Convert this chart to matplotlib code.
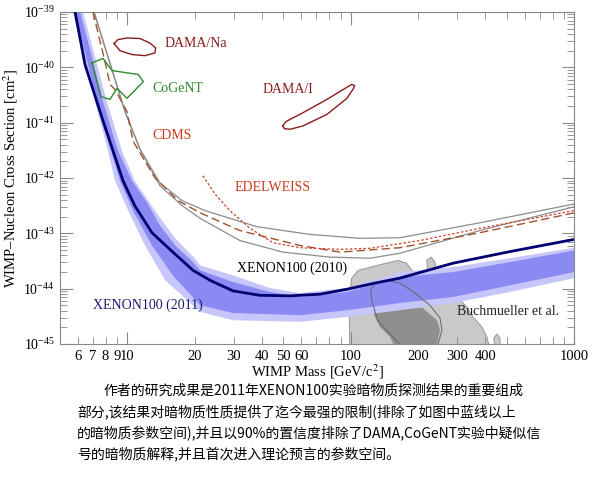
import numpy as np
import matplotlib
matplotlib.use("Agg")
import matplotlib.pyplot as plt

plt.rcParams["font.family"] = ["Liberation Serif", "DejaVu Serif"]
plt.rcParams["mathtext.fontset"] = "stix"

# --- data (mass in GeV, log10 of cross section in cm^2) ---
xe2011_mass = [5.84, 6.47, 7.79, 9.57, 10.8, 12.9, 16.0, 19.7, 23.5, 29.7, 39.2, 53.5,
               72.8, 96.2, 128, 166, 287, 516, 1000]
xe2011_logxs = [-39.00, -39.95, -40.97, -42.05, -42.50, -42.99, -43.34, -43.67, -43.85,
                -44.04, -44.12, -44.13, -44.10, -44.01, -43.90, -43.81, -43.54, -43.33, -43.11]

# expected sensitivity bands (2 sigma light, 1 sigma dark)
band2_hi_mass = [6.34, 7.17, 8.11, 9.47, 10.8, 12.6, 14.3, 16.4, 19.7, 21.2, 29.7, 43.5,
                 59.3, 96.2, 166, 287, 516, 1000]
band2_hi_logxs = [-39.00, -39.81, -40.62, -41.51, -42.05, -42.45, -42.77, -43.09, -43.42,
                  -43.58, -43.76, -43.99, -44.08, -43.99, -43.70, -43.61, -43.45, -43.26]
band1_hi_mass = [6.15, 6.95, 7.79, 9.09, 10.5, 12.3, 14.0, 16.4, 19.7, 21.2, 29.7, 43.5,
                 59.3, 96.2, 166, 287, 516, 1000]
band1_hi_logxs = [-39.00, -39.81, -40.62, -41.51, -42.05, -42.45, -42.86, -43.22, -43.52,
                  -43.67, -43.88, -44.06, -44.15, -44.06, -43.79, -43.70, -43.52, -43.31]
band1_lo_mass = [5.84, 6.54, 7.32, 8.46, 9.28, 10.6, 12.9, 16.0, 21.2, 29.7, 59.3, 96.2,
                 166, 287, 516, 1000]
band1_lo_logxs = [-39.00, -39.81, -40.62, -41.51, -42.05, -42.59, -43.22, -43.76, -44.30,
                  -44.44, -44.48, -44.39, -44.26, -44.15, -43.94, -43.70]
band2_lo_mass = [5.72, 6.40, 7.17, 8.20, 8.81, 10.1, 12.0, 14.8, 21.2, 29.7, 59.3, 96.2,
                 166, 287, 516, 1000]
band2_lo_logxs = [-39.00, -39.81, -40.62, -41.51, -42.05, -42.59, -43.22, -43.85, -44.42,
                  -44.57, -44.60, -44.51, -44.39, -44.26, -44.06, -43.81]

xe2010a_mass = [7.10, 8.37, 9.77, 11.4, 14.0, 17.6, 22.3, 28.8, 38.0, 65.7, 110, 166, 378, 1000]
xe2010a_logxs = [-39.00, -39.93, -40.80, -41.48, -42.09, -42.41, -42.59, -42.73, -42.88,
                 -43.02, -43.09, -43.08, -42.81, -42.47]
xe2010b_mass = [7.10, 8.37, 9.77, 11.4, 14.0, 17.6, 21.2, 31.9, 49.7, 80.7, 122, 166, 378, 1000]
xe2010b_logxs = [-39.00, -39.93, -40.80, -41.48, -42.14, -42.50, -42.73, -43.13, -43.34,
                 -43.43, -43.45, -43.36, -42.95, -42.52]

cdms_mass = [7.02, 7.95, 8.37, 8.81, 9.97, 10.6, 13.3, 16.9, 21.2, 31.9, 59.3, 89.5, 166, 378, 1000]
cdms_logxs = [-39.00, -39.90, -40.31, -40.40, -40.80, -41.33, -42.00, -42.41, -42.63, -42.95,
              -43.22, -43.34, -43.26, -42.99, -42.63]

edw_mass = [21.8, 24.7, 28.8, 35.4, 44.9, 59.3, 89.5, 122, 204, 378, 1000]
edw_logxs = [-41.96, -42.29, -42.59, -42.91, -43.17, -43.26, -43.29, -43.27, -43.13, -42.91, -42.59]

dama_na_mass = [8.72, 9.09, 9.97, 11.4, 12.6, 13.4, 13.3, 12.0, 10.5, 9.28, 8.72]
dama_na_logxs = [-39.57, -39.50, -39.47, -39.48, -39.56, -39.65, -39.74, -39.79, -39.77, -39.70, -39.57]

dama_i_mass = [49.7, 51.0, 53.5, 59.3, 78.3, 96.2, 101, 104, 103, 96.2, 78.3, 61.1, 53.5, 50.5, 49.7]
dama_i_logxs = [-41.06, -40.99, -40.94, -40.85, -40.58, -40.36, -40.31, -40.33, -40.38, -40.56,
                -40.85, -41.06, -41.12, -41.11, -41.06]

cogent_mass = [6.95, 7.79, 8.55, 11.2, 11.8, 9.97, 9.00, 8.37, 7.63, 6.95]
cogent_logxs = [-39.92, -39.84, -40.06, -40.13, -40.26, -40.56, -40.38, -40.58, -40.53, -39.92]

cmssm95_mass = [99.2, 98.2, 101, 108, 131, 163, 178, 190, 219, 222, 219, 229, 238, 248,
                269, 299, 331, 352, 386, 407, 425]
cmssm95_logxs = [-45.2, -44.21, -43.81, -43.67, -43.58, -43.49, -43.54, -43.70, -43.85,
                 -43.81, -43.49, -43.43, -43.52, -43.97, -44.06, -44.15, -44.33, -44.51,
                 -44.69, -44.87, -45.2]
cmssm_blob_mass = [442, 437, 451, 465, 470]
cmssm_blob_logxs = [-45.2, -44.89, -44.82, -44.89, -45.2]
cmssm68_mass = [126, 178, 210, 243, 251, 238, 163, 150, 135]
cmssm68_logxs = [-44.44, -44.33, -44.35, -44.57, -44.75, -45.2, -45.2, -44.87, -44.69]
cmssm_line_mass = [166, 150, 132, 124, 123, 128, 145, 166, 194, 226, 251, 256, 246, 235]
cmssm_line_logxs = [-45.0, -44.83, -44.57, -44.21, -44.03, -43.90, -43.85, -43.90, -44.08,
                    -44.30, -44.53, -44.75, -45.0, -45.2]

x_major = [10, 100, 1000]
x_minor = [6, 7, 8, 9, 20, 30, 40, 50, 60, 70, 80, 90, 200, 300, 400, 500, 600, 700, 800, 900]
x_minor_labels = ["6", "7", "8", "9", "20", "30", "40", "50", "60", "", "", "",
                  "200", "300", "400", "", "", "", "", ""]

caption = [
    "作者的研究成果是2011年XENON100实验暗物质探测结果的重要组成",
    "部分,该结果对暗物质性质提供了迄今最强的限制(排除了如图中蓝线以上",
    "的暗物质参数空间),并且以90%的置信度排除了DAMA,CoGeNT实验中疑似信",
    "号的暗物质解释,并且首次进入理论预言的参数空间。",
]


def xs(logs):
    return 10.0 ** np.asarray(logs)


def band(ax, m_hi, l_hi, m_lo, l_lo, color, z):
    mm = np.concatenate([m_hi, m_lo[::-1]])
    ll = np.concatenate([l_hi, l_lo[::-1]])
    ax.fill(mm, xs(ll), color=color, lw=0, zorder=z)


fig = plt.figure(figsize=(6, 4.88), dpi=100)
ax = fig.add_axes([0.1, 0.2951, 0.857, 0.6804])
ax.set_xscale("log")
ax.set_yscale("log")

# CMSSM expectation (Buchmueller et al.)
ax.fill(cmssm95_mass, xs(cmssm95_logxs), facecolor="#c9c9c9", edgecolor="#8a8a8a", lw=0.6, zorder=1)
ax.fill(cmssm_blob_mass, xs(cmssm_blob_logxs), facecolor="#c9c9c9", edgecolor="#8a8a8a", lw=0.6, zorder=1)
ax.fill(cmssm68_mass, xs(cmssm68_logxs), facecolor="#8f8f8f", lw=0, zorder=1.5)

# sensitivity bands
band(ax, band2_hi_mass, band2_hi_logxs, band2_lo_mass, band2_lo_logxs, "#c6c6fb", 2)
band(ax, band1_hi_mass, band1_hi_logxs, band1_lo_mass, band1_lo_logxs, "#8a8af2", 2.5)

ax.plot(cmssm_line_mass, xs(cmssm_line_logxs), color="#666666", lw=0.7, zorder=3)

# other limits
ax.plot(xe2010a_mass, xs(xe2010a_logxs), color="#8c8c8c", lw=0.9, zorder=4)
ax.plot(xe2010b_mass, xs(xe2010b_logxs), color="#8c8c8c", lw=0.9, zorder=4)
ax.plot(cdms_mass, xs(cdms_logxs), color="#a0522d", lw=1.0, ls=(0, (6, 3)), zorder=4)
ax.plot(edw_mass, xs(edw_logxs), color="#d0402a", lw=0.9, ls=(0, (2, 1.6)), zorder=4)

# signal regions
ax.plot(dama_na_mass, xs(dama_na_logxs), color="#8b1a1a", lw=1.0, zorder=4)
ax.plot(dama_i_mass, xs(dama_i_logxs), color="#8b1a1a", lw=1.0, zorder=4)
ax.plot(cogent_mass, xs(cogent_logxs), color="#2e8b2e", lw=1.0, zorder=4)

# XENON100 (2011) limit
ax.plot(xe2011_mass, xs(xe2011_logxs), color="#000070", lw=2.0, zorder=5)

ax.set_xlim(5, 1000)
ax.set_ylim(1e-45, 1e-39)

txt = dict(fontsize=10, va="center", ha="left", zorder=6)
ax.text(14.75, 10 ** -39.57, "DAMA/Na", color="#8b1a1a", **txt)
ax.text(12.9, 10 ** -40.38, "CoGeNT", color="#2e8b2e", **txt)
ax.text(40.1, 10 ** -40.40, "DAMA/I", color="#8b1a1a", **txt)
ax.text(13.0, 10 ** -41.24, "CDMS", color="#cc3a1e", **txt)
ax.text(30.3, 10 ** -42.18, "EDELWEISS", color="#cc3a1e", **txt)
ax.text(31.0, 10 ** -43.63, "XENON100 (2010)", color="black", **txt)
ax.text(7.02, 10 ** -44.30, "XENON100 (2011)", color="#1a1a70", **txt)
ax.text(299, 10 ** -44.42, "Buchmueller et al.", color="#222222", **txt)

ax.set_xticks(x_major, [str(v) for v in x_major])
ax.set_xticks(x_minor, x_minor_labels, minor=True)
ax.tick_params(which="both", direction="in", top=True, right=True, color="#888888",
               labelsize=10.5, pad=4)
ax.tick_params(axis="y", labelsize=10)
ax.tick_params(which="major", length=9, width=0.8)
ax.tick_params(which="minor", length=5, width=0.6)
for s in ax.spines.values():
    s.set_color("#888888")
    s.set_linewidth(0.8)

ax.set_xlabel("WIMP Mass [GeV/c$^2$]", fontsize=10.5, labelpad=0)
ax.set_ylabel("WIMP\u2013Nucleon Cross Section [cm$^2$]", fontsize=10.5, labelpad=2)

cjk = ["Noto Sans CJK SC", "DejaVu Sans"]
fig.text(0.172, 0.199, caption[0], fontsize=10.0, family=cjk, va="center")
for i, line in enumerate(caption[1:]):
    fig.text(0.128, 0.156 - 0.043 * i, line, fontsize=10.0, family=cjk, va="center")

fig.savefig("out.png", dpi=100, facecolor="white")
